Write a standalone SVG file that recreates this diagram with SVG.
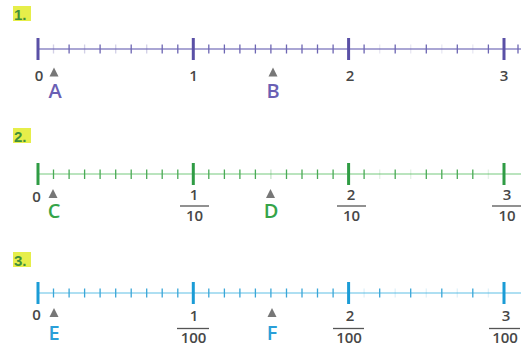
<svg xmlns="http://www.w3.org/2000/svg" width="523" height="352" viewBox="0 0 523 352">
<style>
.num{font-family:"Open Sans","Liberation Sans",sans-serif;font-size:15px;font-weight:600;fill:#474747;text-anchor:middle}
.let{font-family:"Open Sans","Liberation Sans",sans-serif;font-size:20px;font-weight:600;text-anchor:middle}
.hdr{font-family:"Liberation Sans",sans-serif;font-size:15px;font-weight:bold;fill:#3f8f3a}
.tri{fill:#777}
.p .base{stroke:#aaa6d4;stroke-width:2}
.p .minor{stroke:#6d66b3;stroke-width:1.3}
.p .major{stroke:#5a50a6;stroke-width:3}
.p .let{fill:#6a5fb4}
.g .base{stroke:#a3dba8;stroke-width:1.6}
.g .minor{stroke:#4aaa55;stroke-width:1.3}
.g .major{stroke:#2f9c44;stroke-width:3}
.g .let{fill:#35a448}
.b .base{stroke:#93d4ee;stroke-width:1.6}
.b .minor{stroke:#3aa6d8;stroke-width:1.3}
.b .major{stroke:#1b9cd6;stroke-width:3}
.b .let{fill:#2a9fd8}
.bar{stroke:#555;stroke-width:1.3}
.faint{opacity:0.3}
.ghost{opacity:0.15}
</style>

<g id="q1" class="p">
  <rect x="13" y="6" width="18" height="15" fill="#e6ee4a"/>
  <text class="hdr" x="14" y="19.5">1.</text>
  <line class="base" x1="38" y1="49" x2="521" y2="49"/>
  <path class="minor" d="M69.1 44.5V53.5M100.1 44.5V53.5M131.2 44.5V53.5M162.2 44.5V53.5M177.8 44.5V53.5M208.8 44.5V53.5M224.4 44.5V53.5M239.9 44.5V53.5M255.4 44.5V53.5M270.9 44.5V53.5M286.5 44.5V53.5M302 44.5V53.5M317.5 44.5V53.5M333.1 44.5V53.5M364.1 44.5V53.5M395.2 44.5V53.5M426.3 44.5V53.5M457.3 44.5V53.5M488.4 44.5V53.5M518 44.5V53.5"/>
  <path class="minor faint" d="M53.5 44.5V53.5M84.6 44.5V53.5M115.7 44.5V53.5M146.7 44.5V53.5"/>
  <path class="minor ghost" d="M379.7 44.5V53.5M410.7 44.5V53.5M441.8 44.5V53.5M472.8 44.5V53.5"/>
  <path class="major" d="M38 38V60M193.3 38V60M348.6 38V60M504 38V60"/>
  <text class="num" x="39" y="81">0</text>
  <text class="num" x="193.5" y="81">1</text>
  <text class="num" x="350" y="81">2</text>
  <text class="num" x="504" y="81">3</text>
  <path class="tri" d="M49.5 76.5L54 67.5L58.5 76.5Z"/>
  <path class="tri" d="M268.5 76.5L273 67.5L277.5 76.5Z"/>
  <text class="let" x="55" y="98">A</text>
  <text class="let" x="273" y="98">B</text>
</g>

<g id="q2" class="g">
  <rect x="13" y="128" width="18" height="15" fill="#e6ee4a"/>
  <text class="hdr" x="14" y="141.5">2.</text>
  <line class="base" x1="38" y1="174" x2="521" y2="174"/>
  <path class="minor" d="M53.5 169.5V179M69.1 169.5V179M84.6 169.5V179M100.1 169.5V179M115.7 169.5V179M131.2 169.5V179M146.7 169.5V179M162.2 169.5V179M177.8 169.5V179M208.8 169.5V179M224.4 169.5V179M239.9 169.5V179M255.4 169.5V179M286.5 169.5V179M302 169.5V179M317.5 169.5V179M333.1 169.5V179M364.1 169.5V179M395.2 169.5V179M426.3 169.5V179M441.8 169.5V179M457.3 169.5V179M472.8 169.5V179"/>
  <path class="minor faint" d="M270.9 169.5V179"/>
  <path class="minor ghost" d="M379.7 169.5V179M410.7 169.5V179M488.4 169.5V179"/>
  <path class="major" d="M38 163V185M193.3 163V185M348.6 163V185M504 163V185"/>
  <text class="num" x="36.5" y="202">0</text>
  <text class="num" x="194" y="200">1</text>
  <line class="bar" x1="180" y1="206" x2="209" y2="206"/>
  <text class="num" x="194.5" y="221">10</text>
  <text class="num" x="351" y="200">2</text>
  <line class="bar" x1="337" y1="206" x2="366" y2="206"/>
  <text class="num" x="351.5" y="221">10</text>
  <text class="num" x="507" y="200">3</text>
  <line class="bar" x1="492" y1="206" x2="521" y2="206"/>
  <text class="num" x="507" y="221">10</text>
  <path class="tri" d="M48.5 198L53 189L57.5 198Z"/>
  <path class="tri" d="M266 198L270.5 189L275 198Z"/>
  <text class="let" x="54" y="218">C</text>
  <text class="let" x="271" y="218">D</text>
</g>

<g id="q3" class="b">
  <rect x="13" y="252" width="18" height="15" fill="#e6ee4a"/>
  <text class="hdr" x="14" y="265.5">3.</text>
  <line class="base" x1="38" y1="293" x2="521" y2="293"/>
  <path class="minor" d="M53.5 288.5V297.5M69.1 288.5V297.5M84.6 288.5V297.5M100.1 288.5V297.5M115.7 288.5V297.5M131.2 288.5V297.5M146.7 288.5V297.5M162.2 288.5V297.5M177.8 288.5V297.5M208.8 288.5V297.5M224.4 288.5V297.5M239.9 288.5V297.5M255.4 288.5V297.5M270.9 288.5V297.5M286.5 288.5V297.5M302 288.5V297.5M317.5 288.5V297.5M333.1 288.5V297.5M379.7 288.5V297.5M410.7 288.5V297.5M441.8 288.5V297.5M472.8 288.5V297.5"/>
  <path class="minor ghost" d="M364.1 288.5V297.5M395.2 288.5V297.5M426.3 288.5V297.5M457.3 288.5V297.5M488.4 288.5V297.5"/>
  <path class="major" d="M38 282V304M193.3 282V304M348.6 282V304M504 282V304"/>
  <text class="num" x="36.5" y="320">0</text>
  <text class="num" x="194" y="321">1</text>
  <line class="bar" x1="177" y1="328.5" x2="209" y2="328.5"/>
  <text class="num" x="193.5" y="343">100</text>
  <text class="num" x="350" y="321">2</text>
  <line class="bar" x1="333" y1="328.5" x2="364" y2="328.5"/>
  <text class="num" x="349" y="343">100</text>
  <text class="num" x="506" y="321">3</text>
  <line class="bar" x1="489" y1="328.5" x2="520" y2="328.5"/>
  <text class="num" x="505" y="343">100</text>
  <path class="tri" d="M49.5 317L54 308L58.5 317Z"/>
  <path class="tri" d="M267.5 317L272 308L276.5 317Z"/>
  <text class="let" x="54" y="340">E</text>
  <text class="let" x="272" y="340">F</text>
</g>
</svg>
